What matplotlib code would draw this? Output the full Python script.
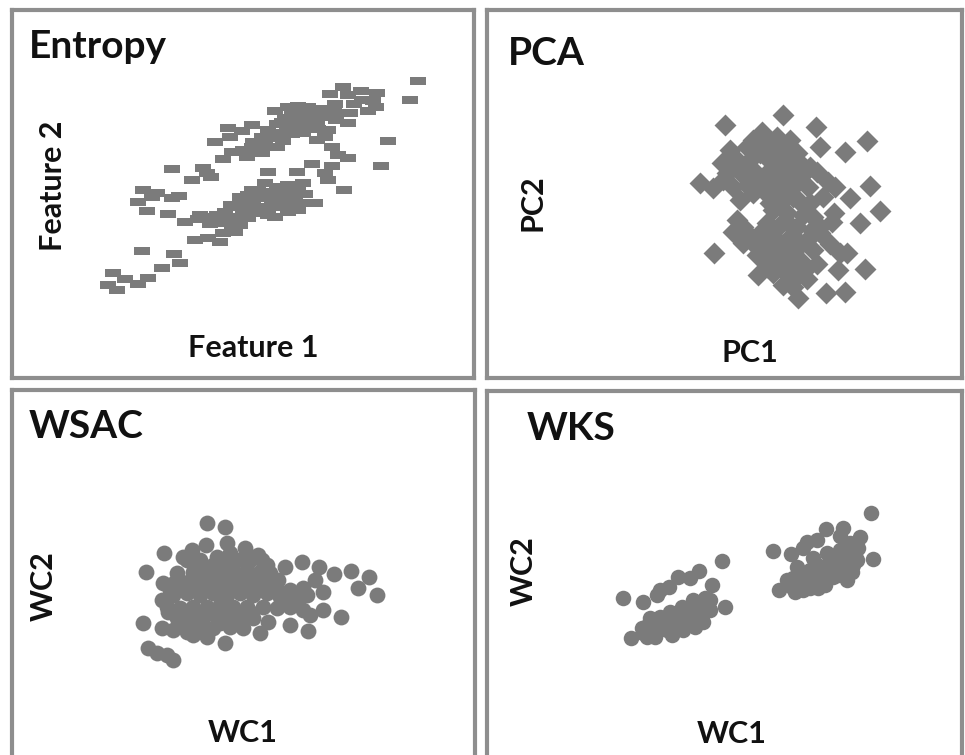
import matplotlib
matplotlib.use("Agg")

import matplotlib.pyplot as plt
import numpy as np


W, H = 965, 755
GREY = "#7b7b7b"
FRAME = "#8e8e8e"
FONT = ["Lato", "DejaVu Sans"]

TITLES = ["Entropy", "PCA", "WSAC", "WKS"]
X_LABELS = ["Feature 1", "PC1", "WC1", "WC1"]
Y_LABELS = ["Feature 2", "PC2", "WC2", "WC2"]

# point positions (picture units, y grows downwards)
ENTROPY_POINTS = [
    (968, 33), (945, 90), (745, 50), (705, 72), (760, 75), (798, 62),
    (845, 70), (835, 92), (800, 90), (778, 102), (765, 128), (720, 102),
    (718, 125), (690, 130), (820, 122), (842, 112), (760, 158), (722, 150),
    (610, 108), (640, 110), (670, 118), (590, 125), (625, 128), (655, 135),
    (685, 140), (570, 145), (600, 148), (635, 152), (665, 160), (545, 162),
    (575, 168), (610, 172), (645, 178), (520, 180), (555, 188), (590, 192),
    (625, 190), (500, 200), (535, 205), (565, 212), (475, 215), (510, 225),
    (545, 230), (480, 238), (455, 262), (500, 248),
    (580, 110), (620, 118), (700, 118), (560, 155), (590, 138), (520, 195),
    (490, 220), (470, 230), (600, 160), (650, 150),
    (540, 123), (400, 175), (440, 182), (470, 165), (405, 200), (360, 215),
    (410, 245), (445, 240), (385, 268), (670, 178), (700, 180), (665, 210),
    (710, 230), (730, 255), (760, 265), (690, 200),
    (230, 298), (325, 295), (335, 310), (348, 322), (290, 330), (520, 305),
    (605, 305), (650, 282), (710, 288), (690, 310), (700, 330), (625, 338),
    (878, 212), (857, 288), (747, 360),
    (510, 338), (545, 350), (580, 345), (610, 352), (490, 360), (525, 365),
    (560, 370), (595, 375), (630, 372), (460, 375), (495, 385), (530, 388),
    (565, 392), (600, 395), (440, 395), (475, 402), (510, 410), (545, 412),
    (415, 410), (450, 420), (485, 430), (520, 435), (390, 425), (425, 440),
    (460, 445), (365, 435), (400, 455), (435, 465), (330, 440), (370, 460),
    (410, 478), (310, 448), (345, 462), (385, 490), (420, 485),
    (470, 360), (500, 375), (540, 378), (580, 360), (555, 400), (520, 420),
    (480, 415), (445, 430), (410, 445), (380, 445), (350, 450), (590, 410),
    (455, 395),
    (435, 380), (408, 405), (660, 398), (630, 400), (610, 420), (580, 425),
    (540, 440), (340, 505), (300, 510), (375, 515), (270, 455), (220, 432),
    (315, 435),
    (145, 360), (185, 368), (130, 395), (155, 422), (230, 385), (252, 378),
    (170, 380),
    (140, 543), (238, 552), (255, 580), (200, 593), (55, 608), (90, 628),
    (160, 625), (130, 642), (40, 645), (65, 660),
]

PCA_POINTS = [
    (310, 45), (135, 75), (408, 82), (560, 122), (495, 155), (420, 140),
    (60, 250), (570, 258), (510, 295), (600, 333), (540, 368), (103, 460),
    (555, 507), (475, 510), (355, 595), (437, 580), (495, 575), (235, 525),
    (380, 538), (410, 492), (480, 460), (500, 460), (450, 432), (410, 215),
    (445, 245), (465, 262), (430, 290), (462, 340), (455, 365), (420, 380),
    (245, 95), (290, 110), (330, 120), (220, 120), (150, 150), (200, 140),
    (260, 140), (300, 150), (350, 160), (125, 190), (170, 180), (215, 175),
    (260, 175), (310, 185), (360, 190), (390, 200), (100, 265), (140, 220),
    (180, 215), (225, 215), (270, 210), (320, 220), (365, 225), (385, 260),
    (160, 260), (200, 255), (250, 250), (290, 250), (340, 260), (180, 300),
    (270, 290), (310, 300), (355, 300), (390, 310), (280, 330), (320, 340),
    (370, 345), (400, 350), (170, 360), (260, 370), (300, 375), (350, 380),
    (395, 390), (160, 395), (200, 400), (240, 400), (280, 410), (330, 410),
    (380, 420), (420, 400), (190, 430), (230, 440), (270, 445), (310, 450),
    (350, 445), (400, 450), (250, 480), (290, 485), (330, 480), (370, 490),
    (280, 520), (320, 520), (360, 520), (310, 555), (340, 560), (380, 505),
    (190, 380),
    (240, 160), (280, 125), (320, 160), (340, 200), (290, 230), (240, 235),
    (200, 200), (160, 200), (130, 240), (220, 280), (300, 270), (340, 290),
    (270, 310), (330, 375), (280, 390), (220, 420), (260, 420), (300, 430),
    (350, 420), (340, 460), (290, 460), (260, 500), (300, 500), (340, 500),
    (330, 540), (230, 465), (180, 410),
]

WSAC_POINTS = [
    (230, 38), (285, 52), (290, 98), (103, 128), (48, 185), (40, 338),
    (285, 398), (465, 170), (515, 155), (568, 172), (612, 192), (662, 183),
    (718, 200), (685, 235), (740, 255), (580, 300), (633, 320), (535, 362),
    (480, 345), (415, 335), (390, 368), (55, 415), (80, 430), (110, 435),
    (130, 450),
    (160, 140), (185, 120), (228, 105), (260, 140), (300, 130), (345, 115),
    (385, 135), (410, 165),
    (170, 150), (210, 150), (320, 150), (360, 150), (395, 150),
    (140, 190), (190, 185), (230, 180), (270, 175), (310, 180), (350, 180),
    (390, 185), (420, 190),
    (100, 220), (135, 215), (175, 215), (220, 220), (260, 215), (300, 220),
    (340, 215), (380, 215), (420, 220), (445, 210), (480, 240), (520, 235),
    (555, 210),
    (95, 270), (130, 255), (170, 250), (210, 255), (250, 250), (290, 255),
    (330, 250), (370, 255), (410, 250), (450, 260), (490, 260), (530, 255),
    (580, 245),
    (110, 290), (150, 295), (190, 290), (230, 290), (270, 285), (310, 290),
    (350, 290), (400, 290), (440, 295), (480, 290), (520, 300), (540, 315),
    (140, 325), (180, 330), (220, 325), (260, 320), (300, 325), (340, 320),
    (370, 325),
    (95, 355), (130, 360), (170, 365), (210, 355), (250, 355), (300, 350),
    (340, 355), (230, 380), (190, 375),
    (120, 240), (155, 235), (195, 235), (235, 235), (275, 235), (315, 235),
    (355, 235), (395, 235), (115, 305), (160, 310), (200, 310), (240, 305),
    (280, 305), (320, 305), (360, 305), (200, 200), (245, 200), (285, 200),
    (325, 200), (365, 200), (405, 200), (250, 165), (290, 160), (440, 240),
    (460, 280), (500, 275), (160, 345), (270, 340), (320, 340),
]

WKS_POINTS = [
    (40, 295), (98, 305), (62, 413), (335, 183), (345, 322), (305, 255),
    (268, 213), (205, 232), (240, 235), (150, 270), (178, 262), (140, 285),
    (110, 410), (115, 375), (150, 350), (145, 390), (180, 335), (185, 375),
    (185, 405), (215, 320), (220, 355), (220, 390), (250, 300), (255, 340),
    (255, 380), (285, 295), (285, 330), (280, 365), (120, 355), (95, 385),
    (300, 300),
    (130, 395), (165, 365), (200, 345), (200, 380), (235, 335), (240, 365),
    (270, 315), (270, 350), (300, 330), (135, 410),
    (150, 370), (170, 390), (205, 360), (230, 375), (250, 355), (265, 330),
    (120, 390), (100, 400),
    (782, 40), (790, 178), (488, 152), (543, 162), (507, 270), (648, 88),
    (700, 85), (690, 108), (750, 112), (590, 125), (620, 120), (580, 145),
    (555, 275), (550, 235), (560, 200), (590, 250), (600, 210), (610, 175),
    (630, 245), (640, 200), (650, 160), (670, 230), (680, 190), (690, 150),
    (710, 240), (715, 200), (720, 160), (740, 180), (745, 145), (720, 130),
    (600, 265), (530, 240),
    (570, 220), (575, 255), (610, 230), (620, 195), (655, 215), (660, 180),
    (695, 210), (700, 170), (730, 195), (625, 265), (580, 270),
    (585, 230), (600, 245), (635, 225), (645, 255), (665, 200), (685, 225),
    (705, 190), (725, 215), (735, 165), (560, 255), (545, 260),
]

DASH = [(-1, -0.48), (1, -0.48), (1, 0.48), (-1, 0.48), (-1, -0.48)]


def fig_box(x0, y0, x1, y1):
    return [x0 / W, 1 - y1 / H, (x1 - x0) / W, (y1 - y0) / H]


def put_text(fig, x, y, text, size, **kw):
    fig.text(x / W, 1 - y / H, text, fontsize=size, family=FONT,
             fontweight="bold", color="#111111", **kw)


def draw_panel(fig, box, points, xlim, ylim, marker, size):
    ax = fig.add_axes(fig_box(*box))
    pts = np.array(points)
    ax.scatter(pts[:, 0], pts[:, 1], marker=marker, s=size,
               color=GREY, linewidths=0)
    ax.set_xlim(xlim)
    ax.set_ylim(ylim)
    ax.set_xticks([])
    ax.set_yticks([])
    for sp in ax.spines.values():
        sp.set_linewidth(3)
        sp.set_color(FRAME)
    return ax


fig = plt.figure(figsize=(W / 100, H / 100), dpi=100)

draw_panel(fig, (12, 10, 474, 378), ENTROPY_POINTS,
           (-249, 1137), (924, -180), DASH, 120)
draw_panel(fig, (487, 10, 962, 378), PCA_POINTS,
           (-579, 846), (834, -270), "D", 125)
draw_panel(fig, (12, 390, 475, 757), WSAC_POINTS,
           (-354, 1035), (741, -360), "o", 130)
draw_panel(fig, (487, 391, 962, 757), WKS_POINTS,
           (-369, 1056), (771, -327), "o", 125)

title_pos = [(29, 58), (508, 65), (29, 438), (527, 440)]
for (x, y), t in zip(title_pos, TITLES):
    put_text(fig, x, y, t, 28, ha="left", va="baseline")

xlabel_pos = [(253, 357), (750, 362), (243, 742), (732, 743)]
for (x, y), t in zip(xlabel_pos, X_LABELS):
    put_text(fig, x, y, t, 22, ha="center", va="baseline")

ylabel_pos = [(62, 186), (542, 203), (53, 586), (533, 571)]
for (x, y), t in zip(ylabel_pos, Y_LABELS):
    put_text(fig, x, y, t, 22, ha="center", va="baseline",
             rotation=90, rotation_mode="anchor")

fig.savefig("out.png", dpi=100)
